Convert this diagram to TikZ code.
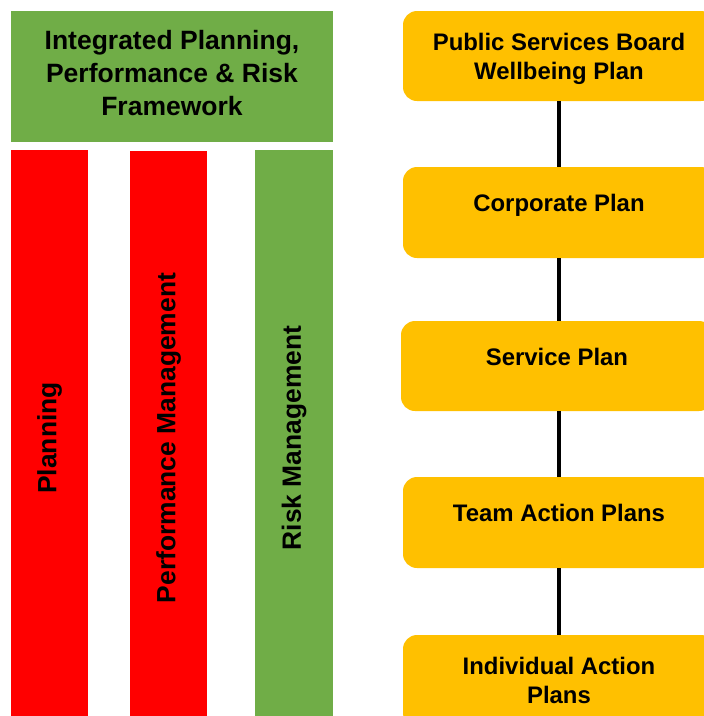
\documentclass[tikz,border=0pt]{standalone}
\usepackage{fontspec}
\setmainfont{Liberation Sans}
\usetikzlibrary{positioning}
\definecolor{frameGreen}{HTML}{70AD47}
\definecolor{stripRed}{HTML}{FF0000}
\definecolor{planOrange}{HTML}{FFC000}
\tikzset{
  head/.style={fill=frameGreen, minimum width=322pt, minimum height=131pt, inner sep=0pt},
  headtext/.style={align=center, font=\fontsize{26.5}{33}\selectfont\bfseries},
  strip/.style={minimum width=77pt, minimum height=566pt, inner sep=0pt},
  striptext/.style={rotate=90, font=\fontsize{26.4}{30}\selectfont\bfseries},
  planbox/.style={fill=planOrange, rounded corners=14pt, minimum width=312pt, minimum height=90pt, inner sep=0pt},
  plantext/.style={align=center, font=\fontsize{23.9}{29}\selectfont\bfseries},
  link/.style={line width=3.4pt, black}
}

\begin{document}
\begin{tikzpicture}[x=1pt, y=-1pt]
\useasboundingbox (0,0) rectangle (704,716);

% framework header
\node[head] (frame) at (172,76.5) {};
\node[headtext] (frameT) at ([yshift=3pt]frame.center) {Integrated Planning,\\Performance \& Risk\\Framework};

% the three strips
\node[strip, fill=stripRed] (plan) at (49.5,433) {};
\node[strip, fill=stripRed, minimum height=565pt] (perf) at (168.5,433.5) {};
\node[strip, fill=frameGreen, minimum width=78pt] (risk) at (294,433) {};
\node[striptext] (planT) at ([yshift=-5pt]plan.center) {Planning};
\node[striptext] (perfT) at ([yshift=-4.5pt]perf.center) {Performance Management};
\node[striptext] (riskT) at ([yshift=-5pt]risk.center) {Risk Management};

% plan hierarchy
\node[planbox] (psb) at (559,56) {};
\node[planbox, minimum height=91pt] (corp) at (559,212.5) {};
\node[planbox] (serv) at (557,366) {};
\node[planbox, minimum height=91pt] (team) at (559,522.5) {};
\node[planbox, minimum height=92pt] (ind) at (559,681) {};

\node[plantext] (psbT) at ([yshift=-3pt]psb.center) {Public Services Board\\Wellbeing Plan};
\node[plantext] (corpT) at ([yshift=7.5pt]corp.center) {Corporate Plan};
\node[plantext] (servT) at ([yshift=9pt]serv.center) {Service Plan};
\node[plantext] (teamT) at ([yshift=9.5pt]team.center) {Team Action Plans};
\node[plantext] (indT) at ([yshift=1pt]ind.center) {Individual Action\\Plans};

\draw[link] (psb.south) -- (corp.north);
\draw[link] (corp.south) -- (corp.south |- serv.north);
\draw[link] (corp.south |- serv.south) -- (team.north);
\draw[link] (team.south) -- (ind.north);

\end{tikzpicture}
\end{document}
